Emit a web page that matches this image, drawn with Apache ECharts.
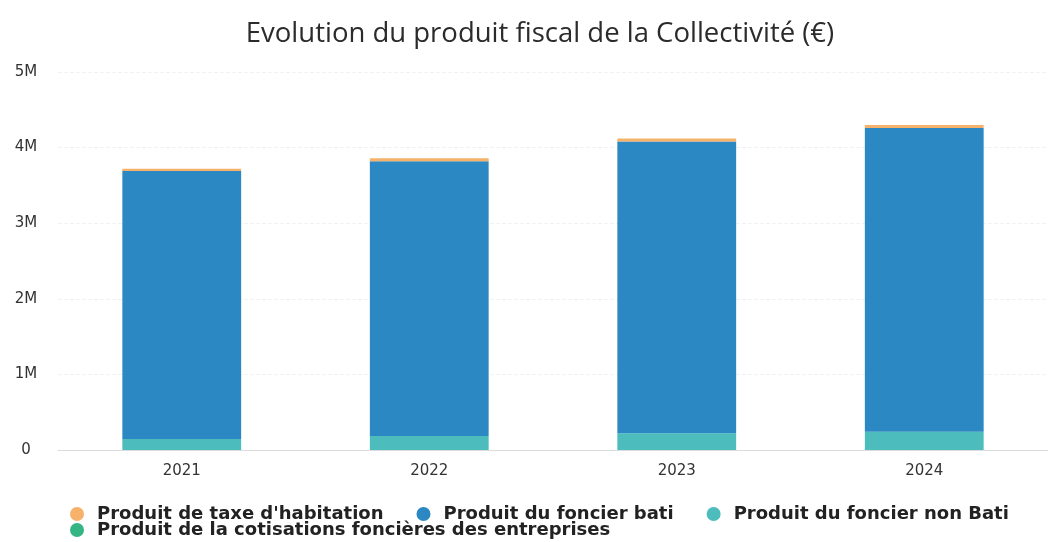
<!DOCTYPE html>
<html>
<head>
<meta charset="utf-8">
<title>Evolution du produit fiscal</title>
<script src="https://cdn.jsdelivr.net/npm/echarts@6/dist/echarts.min.js"></script>
<style>
  html, body { margin: 0; padding: 0; background: #ffffff; }
  #chart { width: 1048px; height: 542px; }
</style>
</head>
<body>
<div id="chart"></div>
<script>
// Years shown on the category axis
const years = ['2021', '2022', '2023', '2024'];

// Tax revenue per component, in euros
const taxeHabitation = [30000, 40000, 40000, 40000];
const foncierBati = [3545000, 3635000, 3860000, 4020000];
const foncierNonBati = [145000, 185000, 220000, 240000];
const cotisationsFoncieres = [0, 0, 0, 0];

// Value-axis ticks
const yMin = 0;
const yMax = 5000000;
const yStep = 1000000;

const seriesNames = [
  'Produit de taxe d\'habitation',
  'Produit du foncier bati',
  'Produit du foncier non Bati',
  'Produit de la cotisations foncières des entreprises'
];
const colors = ['#f6b26b', '#2b88c2', '#4cbcbc', '#35b583'];

function bar(name, data, color) {
  return {
    name: name,
    type: 'bar',
    stack: 'total',
    data: data,
    barWidth: '48%',
    itemStyle: { color: color },
    emphasis: { disabled: true }
  };
}

// Shared legend look; the legend is split over two tightly packed rows
function legendRow(names, top) {
  return {
    data: names,
    left: 70,
    top: top,
    icon: 'circle',
    itemWidth: 14,
    itemHeight: 14,
    itemGap: 33,
    padding: 0,
    selectedMode: false,
    textStyle: {
      fontFamily: 'DejaVu Sans',
      fontSize: 18,
      fontWeight: 'bold',
      color: '#222',
      lineHeight: 16,
      padding: [0, 0, 0, 8]
    }
  };
}

const chart = echarts.init(document.getElementById('chart'), null, { renderer: 'canvas' });

chart.setOption({
  animation: false,
  color: colors,
  title: {
    text: 'Evolution du produit fiscal de la Collectivité (€)',
    left: 535,
    textAlign: 'center',
    top: 15,
    textStyle: {
      fontFamily: 'Open Sans',
      fontSize: 27.5,
      fontWeight: 'normal',
      color: '#2b2b2b'
    }
  },
  legend: [
    legendRow(seriesNames.slice(0, 3), 505),
    legendRow(seriesNames.slice(3), 521)
  ],
  grid: {
    left: 58,
    top: 72,
    width: 996,
    height: 378,
    containLabel: false
  },
  xAxis: {
    type: 'category',
    data: years,
    axisLine: { lineStyle: { color: '#dcdcdc' } },
    axisTick: { lineStyle: { color: '#dcdcdc' }, length: 5 },
    axisLabel: {
      fontFamily: 'DejaVu Sans',
      fontSize: 15,
      color: '#333',
      margin: 14
    }
  },
  yAxis: {
    type: 'value',
    min: yMin,
    max: yMax,
    interval: yStep,
    axisLine: { show: false },
    axisTick: { show: false },
    splitLine: { lineStyle: { color: '#f2f2f2', type: 'dashed' } },
    axisLabel: {
      fontFamily: 'DejaVu Sans',
      fontSize: 15,
      color: '#333',
      align: 'center',
      margin: 32,
      formatter: function (v) { return v === 0 ? '0' : (v / 1000000) + 'M'; }
    }
  },
  series: [
    bar(seriesNames[3], cotisationsFoncieres, colors[3]),
    bar(seriesNames[2], foncierNonBati, colors[2]),
    bar(seriesNames[1], foncierBati, colors[1]),
    bar(seriesNames[0], taxeHabitation, colors[0])
  ]
});
</script>
</body>
</html>
